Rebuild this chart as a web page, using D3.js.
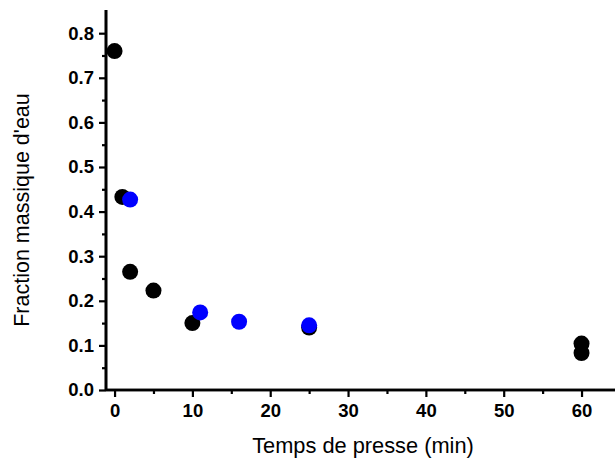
<!DOCTYPE html>
<html><head><meta charset="utf-8">
<script src="https://cdn.jsdelivr.net/npm/d3@7"></script>
<style>body{margin:0;background:#fff}svg{display:block}</style>
</head><body>
<script>
const blackX = [0, 1, 2, 5, 10, 25, 60, 60];
const blackY = [0.760, 0.433, 0.265, 0.223, 0.150, 0.140, 0.104, 0.083];
const blueX = [2, 11, 16, 25];
const blueY = [0.427, 0.174, 0.153, 0.145];
const xTicks = [0, 10, 20, 30, 40, 50, 60];
const yTicks = [0.0, 0.1, 0.2, 0.3, 0.4, 0.5, 0.6, 0.7, 0.8];
const xMinor = [5, 15, 25, 35, 45, 55];
const yMinor = [0.05, 0.15, 0.25, 0.35, 0.45, 0.55, 0.65, 0.75];
const xTitle = "Temps de presse (min)";
const yTitle = "Fraction massique d'eau";

const W = 615, H = 459;
const svg = d3.select("body").append("svg").attr("width", W).attr("height", H);
const x = d3.scaleLinear().domain([-1.1, 64.3]).range([106, 615]);
const y = d3.scaleLinear().domain([0, 0.852]).range([390, 10]);

const font = "'Liberation Sans', Arial, sans-serif";

// Points
const black = blackX.map((v, i) => ({x: v, y: blackY[i]}));
const blue = blueX.map((v, i) => ({x: v, y: blueY[i]}));
svg.append("g").selectAll("circle").data(black).join("circle")
  .attr("cx", d => x(d.x)).attr("cy", d => y(d.y)).attr("r", 8).attr("fill", "#000");
svg.append("g").selectAll("circle").data(blue).join("circle")
  .attr("cx", d => x(d.x)).attr("cy", d => y(d.y)).attr("r", 8).attr("fill", "#0000ff");

// X axis
const xAxis = svg.append("g").attr("transform", "translate(0,390)")
  .call(d3.axisBottom(x).tickValues(xTicks).tickFormat(d3.format("d")).tickSize(7).tickPadding(7));
const xMinorG = svg.append("g").attr("transform", "translate(0,390)")
  .call(d3.axisBottom(x).tickValues(xMinor).tickFormat("").tickSize(4));
// Y axis
const yAxis = svg.append("g").attr("transform", "translate(106,0)")
  .call(d3.axisLeft(y).tickValues(yTicks).tickFormat(d3.format(".1f")).tickSize(7).tickPadding(5));
const yMinorG = svg.append("g").attr("transform", "translate(106,0)")
  .call(d3.axisLeft(y).tickValues(yMinor).tickFormat("").tickSize(4));

[xAxis, xMinorG, yAxis, yMinorG].forEach(g => {
  g.select(".domain").attr("stroke", "#000").attr("stroke-width", 2.6);
  g.selectAll(".tick line").attr("stroke", "#000").attr("stroke-width", 2.2);
  g.selectAll(".tick text").attr("fill", "#000").attr("font-family", font)
    .attr("font-weight", "bold").attr("font-size", 18.5);
});
[xAxis, xMinorG].forEach(g => g.select(".domain").attr("d", "M106,0H615"));
[yAxis, yMinorG].forEach(g => g.select(".domain").attr("d", "M0,390V10"));

svg.append("text").attr("x", 363).attr("y", 453).attr("text-anchor", "middle")
  .attr("font-family", font).attr("font-size", 21.8).attr("fill", "#000").text(xTitle);
svg.append("text").attr("transform", "translate(29,210) rotate(-90)").attr("text-anchor", "middle")
  .attr("font-family", font).attr("font-size", 21.5).attr("fill", "#000").text(yTitle);
</script>
</body></html>
